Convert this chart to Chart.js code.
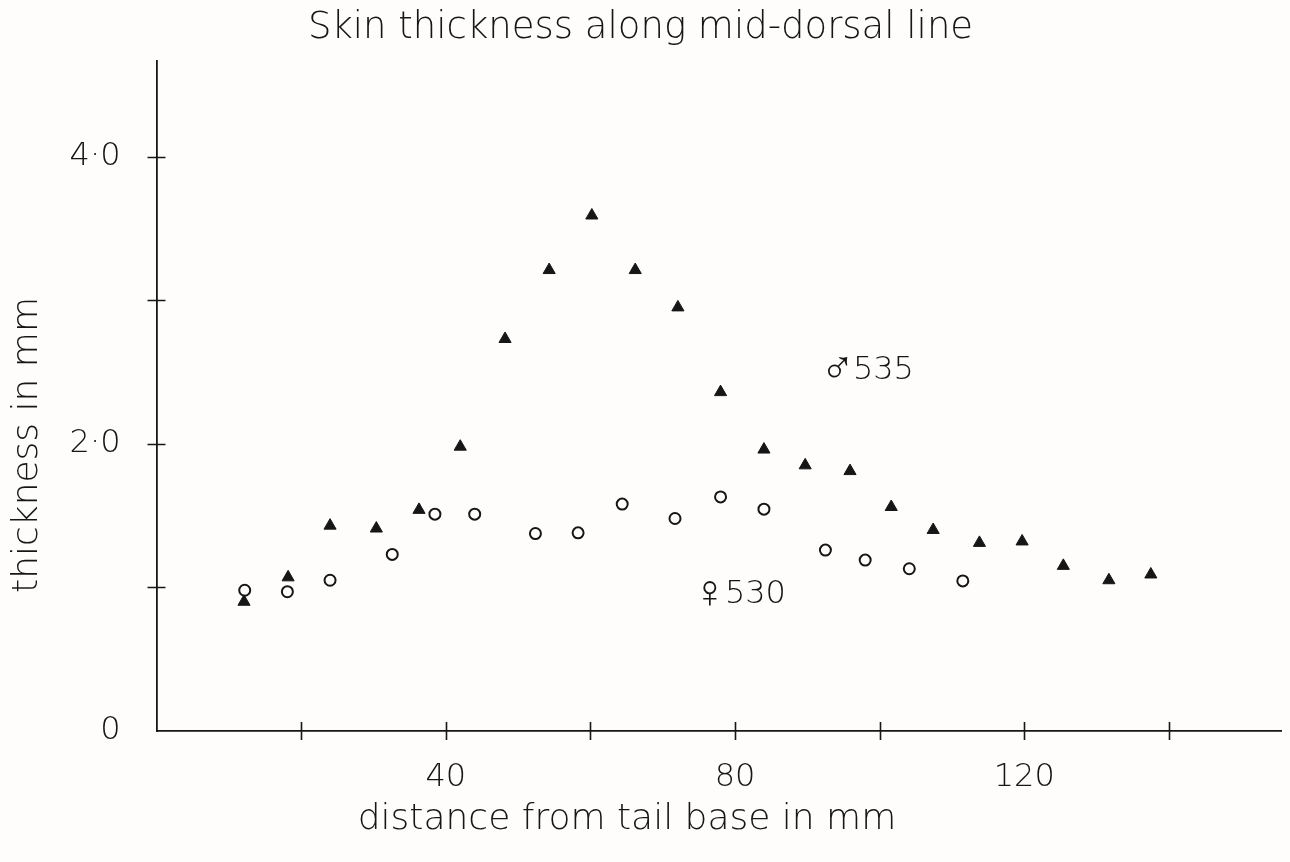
<!DOCTYPE html>
<html>
<head>
<meta charset="utf-8">
<script src="https://cdn.jsdelivr.net/npm/chart.js@4.4.1/dist/chart.umd.min.js"></script>
<style>
  html, body { margin: 0; padding: 0; background: #fefdfb; }
</style>
</head>
<body>
<canvas id="myChart" width="1290" height="862"></canvas>
<script>
// male 535 (filled triangles)
var maleX = [12.1, 18.2, 24.0, 30.4, 36.3, 42.0, 48.2, 54.3, 60.2, 66.2, 72.1, 78.0, 84.0, 89.7, 95.9, 101.6, 107.4, 113.8, 119.7, 125.4, 131.7, 137.5];
var maleY = [0.90, 1.07, 1.43, 1.41, 1.54, 1.98, 2.73, 3.21, 3.59, 3.21, 2.95, 2.36, 1.96, 1.85, 1.81, 1.56, 1.40, 1.31, 1.32, 1.15, 1.05, 1.09];

// female 530 (open circles)
var femaleX = [12.2, 18.1, 24.0, 32.6, 38.5, 44.0, 52.4, 58.3, 64.4, 71.7, 78.0, 84.0, 92.5, 98.0, 104.1, 111.5];
var femaleY = [0.98, 0.97, 1.05, 1.23, 1.51, 1.51, 1.375, 1.38, 1.58, 1.48, 1.63, 1.545, 1.26, 1.19, 1.13, 1.045];

// axis ticks
var xTickMarks = [20, 40, 60, 80, 100, 120, 140];
var xTickLabels = [40, 80, 120];
var yTickMarks = [1, 2, 3, 4];
var yTickValues = [0, 2, 4];
var yTickText = ["0", "2\u00b70", "4\u00b70"];

// series names written inside the plot (x, y = where the number starts)
var seriesSymbols = ["\u2642", "\u2640"];
var seriesNumbers = ["535", "530"];
var seriesNameX = [96.3, 78.6];
var seriesNameY = [2.51, 0.946];

var ink = "#161616";
var face = "'DejaVu Sans', sans-serif";
Chart.defaults.font.family = face;
Chart.defaults.font.weight = 200;
Chart.defaults.color = ink;

function toPoints(xs, ys) {
  return xs.map(function (x, i) { return { x: x, y: ys[i] }; });
}

// tick marks crossing the axes, series names, axis titles
var axisMarks = {
  id: "axisMarks",
  afterDraw: function (chart) {
    var ctx = chart.ctx;
    var xs = chart.scales.x, ys = chart.scales.y;
    var area = chart.chartArea;
    ctx.save();
    ctx.strokeStyle = ink;
    ctx.lineWidth = 1.6;
    ctx.beginPath();
    xTickMarks.forEach(function (v) {
      var px = Math.round(xs.getPixelForValue(v)) + 0.5;
      ctx.moveTo(px, area.bottom - 9);
      ctx.lineTo(px, area.bottom + 9);
    });
    yTickMarks.forEach(function (v) {
      var py = Math.round(ys.getPixelForValue(v)) + 0.5;
      ctx.moveTo(area.left - 9, py);
      ctx.lineTo(area.left + 9, py);
    });
    ctx.stroke();

    ctx.fillStyle = ink;
    ctx.textBaseline = "middle";
    seriesNumbers.forEach(function (t, i) {
      var px = xs.getPixelForValue(seriesNameX[i]);
      var py = ys.getPixelForValue(seriesNameY[i]);
      ctx.font = "200 32px " + face;
      ctx.textAlign = "left";
      ctx.fillText(t, px, py);
      ctx.font = "200 46px " + face;
      ctx.textAlign = "right";
      ctx.fillText(seriesSymbols[i], px + 2, py);
    });

    ctx.font = "200 36px " + face;
    ctx.textAlign = "center";
    ctx.fillText("distance from tail base in mm", 627, 820);

    ctx.translate(28, 445);
    ctx.rotate(-Math.PI / 2);
    ctx.fillText("thickness in mm", 0, 0);
    ctx.restore();
  }
};

var ctx = document.getElementById("myChart").getContext("2d");
var myChart = new Chart(ctx, {
  type: "scatter",
  data: {
    datasets: [
      {
        label: "\u2642535",
        data: toPoints(maleX, maleY),
        pointStyle: "triangle",
        pointRadius: 7,
        pointBackgroundColor: ink,
        pointBorderColor: ink,
        pointBorderWidth: 1
      },
      {
        label: "\u2640530",
        data: toPoints(femaleX, femaleY),
        pointStyle: "circle",
        pointRadius: 5.5,
        pointBackgroundColor: "rgba(0,0,0,0)",
        pointBorderColor: ink,
        pointBorderWidth: 2
      }
    ]
  },
  options: {
    responsive: false,
    animation: false,
    events: [],
    layout: { padding: { left: 0, right: 9, top: 0, bottom: 0 } },
    plugins: {
      legend: { display: false },
      tooltip: { enabled: false },
      title: {
        display: true,
        text: "Skin thickness along mid-dorsal line",
        font: { size: 37, weight: 200 },
        color: ink,
        padding: { top: 6, bottom: 10 }
      }
    },
    scales: {
      x: {
        type: "linear",
        min: 0,
        max: 155.5,
        afterFit: function (scale) {
          scale.height = 131;
          scale.paddingLeft = 0;
          scale.paddingRight = 0;
        },
        border: { display: true, color: ink, width: 1.8 },
        grid: { display: false, drawTicks: false },
        ticks: {
          stepSize: 20,
          autoSkip: false,
          maxRotation: 0,
          padding: 27,
          font: { size: 32 },
          callback: function (v) { return xTickLabels.indexOf(v) >= 0 ? String(v) : ""; }
        }
      },
      y: {
        type: "linear",
        min: 0,
        max: 4.67,
        afterFit: function (scale) { scale.width = 156.5; },
        border: { display: true, color: ink, width: 1.8 },
        grid: { display: false, drawTicks: false },
        ticks: {
          stepSize: 1,
          autoSkip: false,
          padding: 36,
          font: { size: 32 },
          callback: function (v) {
            var k = yTickValues.indexOf(v);
            return k >= 0 ? yTickText[k] : "";
          }
        }
      }
    }
  },
  plugins: [axisMarks]
});
</script>
</body>
</html>
